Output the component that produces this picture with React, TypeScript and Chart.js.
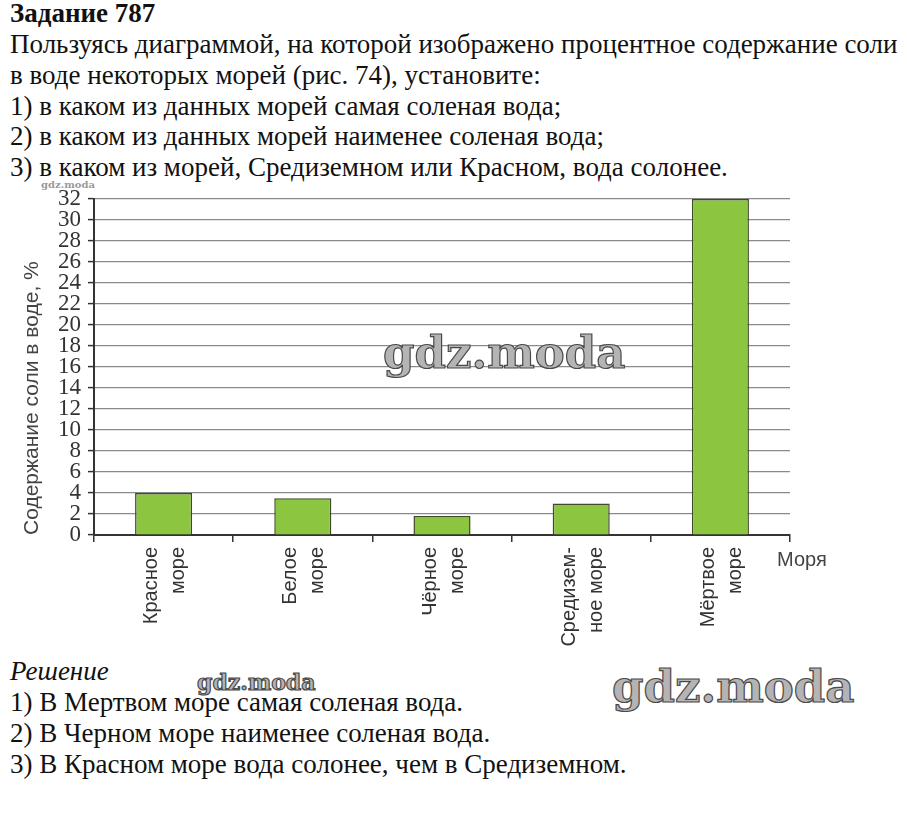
import React, { useEffect, useRef } from "react";
import { Chart, registerables } from "chart.js";

Chart.register(...registerables);

const categories: string[][] = [
  ["Красное", "море"],
  ["Белое", "море"],
  ["Чёрное", "море"],
  ["Средизем-", "ное море"],
  ["Мёртвое", "море"],
];
const saltPercent: number[] = [4, 3.5, 1.8, 3.0, 32];
const yMin = 0;
const yMax = 32;
const yStep = 2;
const yTitle = "Содержание соли в воде, %";
const xTitle = "Моря";

const taskTitle = "Задание 787";
const taskLines: string[] = [
  "Пользуясь диаграммой, на которой изображено процентное содержание соли",
  "в воде некоторых морей (рис. 74), установите:",
  "1) в каком из данных морей самая соленая вода;",
  "2) в каком из данных морей наименее соленая вода;",
  "3) в каком из морей, Средиземном или Красном, вода солонее.",
];
const solutionTitle = "Решение";
const solutionLines: string[] = [
  "1) В Мертвом море самая соленая вода.",
  "2) В Черном море наименее соленая вода.",
  "3) В Красном море вода солонее, чем в Средиземном.",
];

const SERIF = "Liberation Serif";
const SANS = "Liberation Sans";

const xLabelPlugin = {
  id: "xAxisName",
  afterDraw(chart: any) {
    const { ctx, chartArea } = chart;
    ctx.save();
    ctx.font = `20px "${SANS}"`;
    ctx.fillStyle = "#444";
    ctx.textAlign = "left";
    ctx.textBaseline = "middle";
    ctx.fillText(xTitle, chartArea.right - 13, chartArea.bottom + 25);
    ctx.restore();
  },
};

function ChartView() {
  const ref = useRef<HTMLCanvasElement | null>(null);
  useEffect(() => {
    if (!ref.current) return;
    const chart = new Chart(ref.current, {
      type: "bar",
      data: {
        labels: categories,
        datasets: [
          {
            data: saltPercent,
            backgroundColor: "#8cc540",
            borderColor: "#3e4a2c",
            borderWidth: 1.5,
            barPercentage: 0.41,
            categoryPercentage: 1,
          },
        ],
      },
      options: {
        responsive: false,
        animation: false,
        layout: { padding: { top: 9, right: 117, left: 0, bottom: 0 } },
        plugins: {
          legend: { display: false },
          tooltip: { enabled: false },
        },
        scales: {
          x: {
            afterFit(scale: any) {
              scale.height = 115;
              scale.paddingLeft = 0;
              scale.paddingRight = 0;
            },
            border: { display: true, color: "#333", width: 2 },
            grid: {
              display: true,
              drawOnChartArea: false,
              drawTicks: true,
              tickLength: 7,
              color: "#333",
              lineWidth: 1.5,
              offset: true,
            },
            ticks: {
              autoSkip: false,
              maxRotation: 90,
              minRotation: 90,
              padding: 5,
              labelOffset: -12,
              color: "#333",
              font: { family: SANS, size: 20, lineHeight: 1.35 },
            },
          },
          y: {
            z: 1,
            min: yMin,
            max: yMax,
            afterFit(scale: any) {
              scale.width = 94;
              scale.paddingTop = 0;
              scale.paddingBottom = 0;
            },
            border: { display: true, color: "#333", width: 2 },
            grid: {
              color: "#8a8a8a",
              lineWidth: 1.2,
              drawTicks: true,
              tickLength: 6,
              tickColor: "#333",
              tickWidth: 1.5,
            },
            ticks: {
              stepSize: yStep,
              autoSkip: false,
              padding: 7,
              color: "#333",
              font: { family: SERIF, size: 23, lineHeight: 1 },
            },
            title: {
              display: true,
              text: yTitle,
              align: "start",
              color: "#444",
              font: { family: SANS, size: 21, lineHeight: 1.2 },
              padding: { top: 20, bottom: 0 },
            },
          },
        },
      },
      plugins: [xLabelPlugin],
    } as any);
    return () => chart.destroy();
  }, []);
  return (
    <canvas
      ref={ref}
      width={907}
      height={460}
      style={{ position: "absolute", left: 0, top: 190, width: 907, height: 460 }}
    />
  );
}

const lineStyle = (top: number, extra: React.CSSProperties = {}): React.CSSProperties => ({
  position: "absolute",
  left: 10,
  top,
  fontFamily: SERIF,
  fontSize: 27,
  lineHeight: "27px",
  color: "#111",
  whiteSpace: "nowrap",
  ...extra,
});

const wm = (left: number, top: number, size: number, stroke: boolean): React.CSSProperties => ({
  position: "absolute",
  left,
  top,
  fontFamily: "DejaVu Serif",
  fontWeight: "bold",
  fontSize: size,
  lineHeight: `${size}px`,
  color: stroke ? "#b4b4b4" : "#9a9a9a",
  WebkitTextStroke: stroke ? "1.2px #4a4a4a" : undefined,
  whiteSpace: "nowrap",
  letterSpacing: 0,
});

export default function App() {
  const topBase = 23;
  const step = 30.7;
  const ascent = 22.6;
  return (
    <div
      style={{
        position: "absolute",
        left: 0,
        top: 0,
        width: 907,
        height: 828,
        overflow: "hidden",
        background: "#fff",
      }}
    >
      <div style={lineStyle(topBase - ascent, { fontWeight: "bold" })}>{taskTitle}</div>
      {taskLines.map((t, i) => (
        <div key={i} style={lineStyle(topBase + step * (i + 1) - ascent)}>
          {t}
        </div>
      ))}
      <ChartView />
      <div style={lineStyle(681 - ascent, { fontStyle: "italic" })}>{solutionTitle}</div>
      {solutionLines.map((t, i) => (
        <div key={i} style={lineStyle(681 + step * (i + 1) - ascent)}>
          {t}
        </div>
      ))}
      <div style={wm(383, 330, 45, true)}>gdz.moda</div>
      <div style={wm(612, 664, 45, true)}>gdz.moda</div>
      <div style={wm(197, 671, 22, true)}>gdz.moda</div>
      <div style={wm(41, 180, 10, false)}>gdz.moda</div>
    </div>
  );
}
